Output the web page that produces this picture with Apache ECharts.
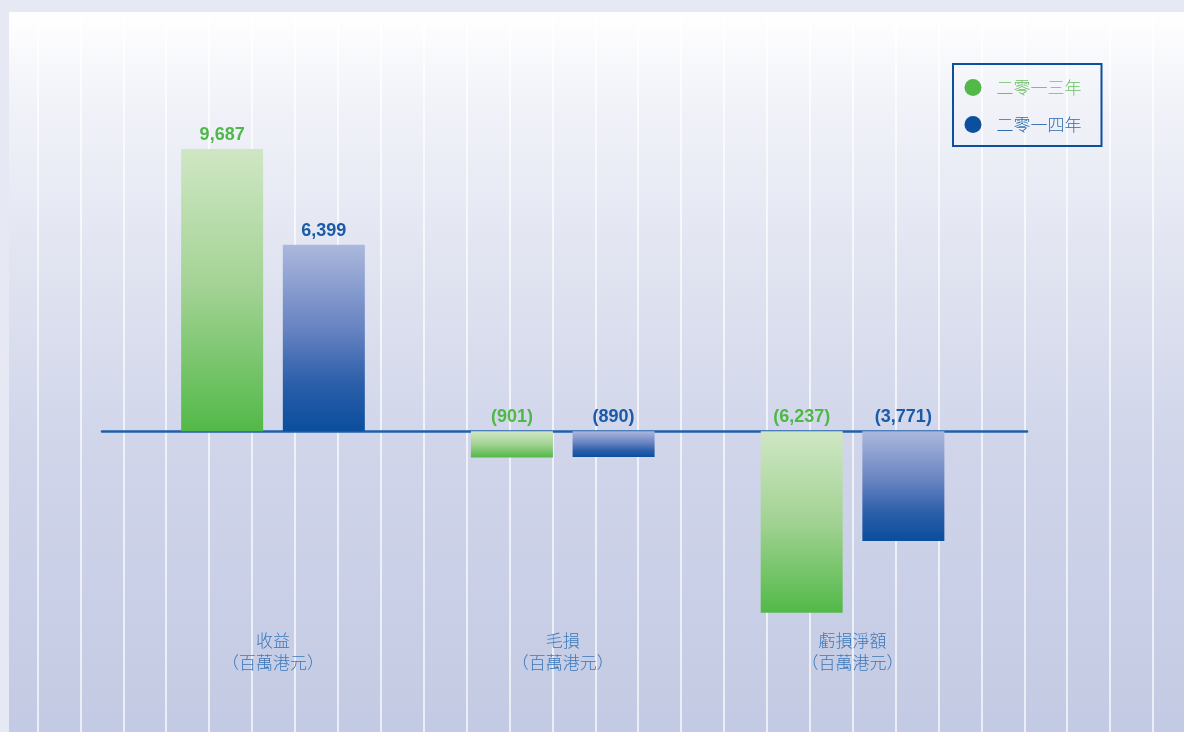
<!DOCTYPE html>
<html>
<head>
<meta charset="utf-8">
<script src="https://cdn.jsdelivr.net/npm/echarts@6/dist/echarts.min.js"></script>
<style>html,body{margin:0;padding:0;background:#e6e9f4;}#c{width:1184px;height:732px;}</style>
</head>
<body>
<div id="c"></div>
<script>
const categoryNames = ['收益', '毛損', '虧損淨額'];
const unitLabel = '（百萬港元）';
const seriesNames = ['二零一三年', '二零一四年'];
const values2013 = [9687, -901, -6237];
const values2014 = [6399, -890, -3771];

const Y_MIN = -6500, Y_MAX = 10000;
const GREEN = '#4fb848', BLUE = '#1a5aa6';

function fmt(v) {
  const s = Math.abs(v).toLocaleString('en-US');
  return v < 0 ? '(' + s + ')' : s;
}
function grad(stops) {
  return new echarts.graphic.LinearGradient(0, 0, 0, 1, stops.map((c, i) => ({offset: c[0], color: c[1]})));
}
const greenGrad = grad([[0, '#cfe7c4'], [0.5, '#a2d293'], [1, '#52b948']]);
const blueGrad = grad([[0, '#abb8dd'], [0.45, '#6783c1'], [0.75, '#2a5ea9'], [1, '#0a4e9d']]);

const chart = echarts.init(document.getElementById('c'), null, {renderer: 'canvas'});
const labelFont = {fontFamily: 'Liberation Sans, Arial, sans-serif', fontWeight: 'bold', fontSize: 18};

chart.setOption({
  backgroundColor: '#e6e9f4',
  animation: false,
  graphic: [{
    type: 'rect', z: -10, silent: true,
    shape: {x: 9, y: 12, width: 1175, height: 720},
    style: {fill: new echarts.graphic.LinearGradient(0, 0, 0, 1, [
      {offset: 0, color: '#ffffff'},
      {offset: 0.12, color: '#f2f3f9'},
      {offset: 0.4, color: '#dde1ef'},
      {offset: 0.6, color: '#d0d5ea'},
      {offset: 1, color: '#c3cae3'}
    ])}
  }],
  legend: {
    orient: 'vertical', left: 953, top: 64,
    padding: [15, 20, 13, 11.5],
    borderColor: '#0b4f9e', borderWidth: 2,
    icon: 'circle', itemWidth: 37, itemHeight: 17, itemGap: 20,
    textStyle: {fontFamily: 'Noto Sans CJK TC', fontSize: 17, fontWeight: 300},
    data: [
      {name: seriesNames[0], itemStyle: {color: '#52b848'}, textStyle: {color: '#6cc064'}},
      {name: seriesNames[1], itemStyle: {color: '#0b4f9e'}, textStyle: {color: '#2e6cb0'}}
    ]
  },
  grid: [
    {left: 128.1, right: 186.6, top: 140, bottom: 111.6},
    {left: 37.5, right: 31, top: 17, bottom: 0},
    {left: 102, right: 157, top: 140, bottom: 111.6}
  ],
  xAxis: [
    {
      type: 'category', gridIndex: 0,
      data: categoryNames.map(n => n + '\n' + unitLabel),
      axisLine: {show: false}, axisTick: {show: false}, splitLine: {show: false},
      axisLabel: {margin: 9, color: '#3a78ba', fontFamily: 'Noto Sans CJK TC', fontSize: 17, fontWeight: 300, lineHeight: 22}
    },
    {
      type: 'value', gridIndex: 1, min: 0, max: 26, interval: 1,
      axisLine: {show: false}, axisTick: {show: false}, axisLabel: {show: false},
      splitLine: {show: true, lineStyle: {color: 'rgba(255,255,255,0.9)', width: 1.5}}
    },
    {
      type: 'category', gridIndex: 2, data: ['a'],
      axisLine: {show: true, onZero: true, lineStyle: {color: '#1e60a9', width: 2.5}},
      axisTick: {show: false}, axisLabel: {show: false}, splitLine: {show: false}
    }
  ],
  yAxis: [
    {type: 'value', gridIndex: 0, min: Y_MIN, max: Y_MAX, show: false, splitLine: {show: false}},
    {type: 'value', gridIndex: 1, min: 0, max: 1, show: false, splitLine: {show: false}},
    {type: 'value', gridIndex: 2, min: Y_MIN, max: Y_MAX, axisLine: {show: false}, axisTick: {show: false}, axisLabel: {show: false}, splitLine: {show: false}}
  ],
  series: [
    {
      name: seriesNames[0], type: 'bar', xAxisIndex: 0, yAxisIndex: 0, z: 5,
      data: values2013, barWidth: 82, barGap: '24%',
      itemStyle: {color: greenGrad},
      label: Object.assign({show: true, position: 'top', distance: 5, color: GREEN, formatter: p => fmt(p.value)}, labelFont)
    },
    {
      name: seriesNames[1], type: 'bar', xAxisIndex: 0, yAxisIndex: 0, z: 5,
      data: values2014, barWidth: 82, barGap: '24%',
      itemStyle: {color: blueGrad},
      label: Object.assign({show: true, position: 'top', distance: 5, color: BLUE, formatter: p => fmt(p.value)}, labelFont)
    }
  ]
});
</script>
</body>
</html>
